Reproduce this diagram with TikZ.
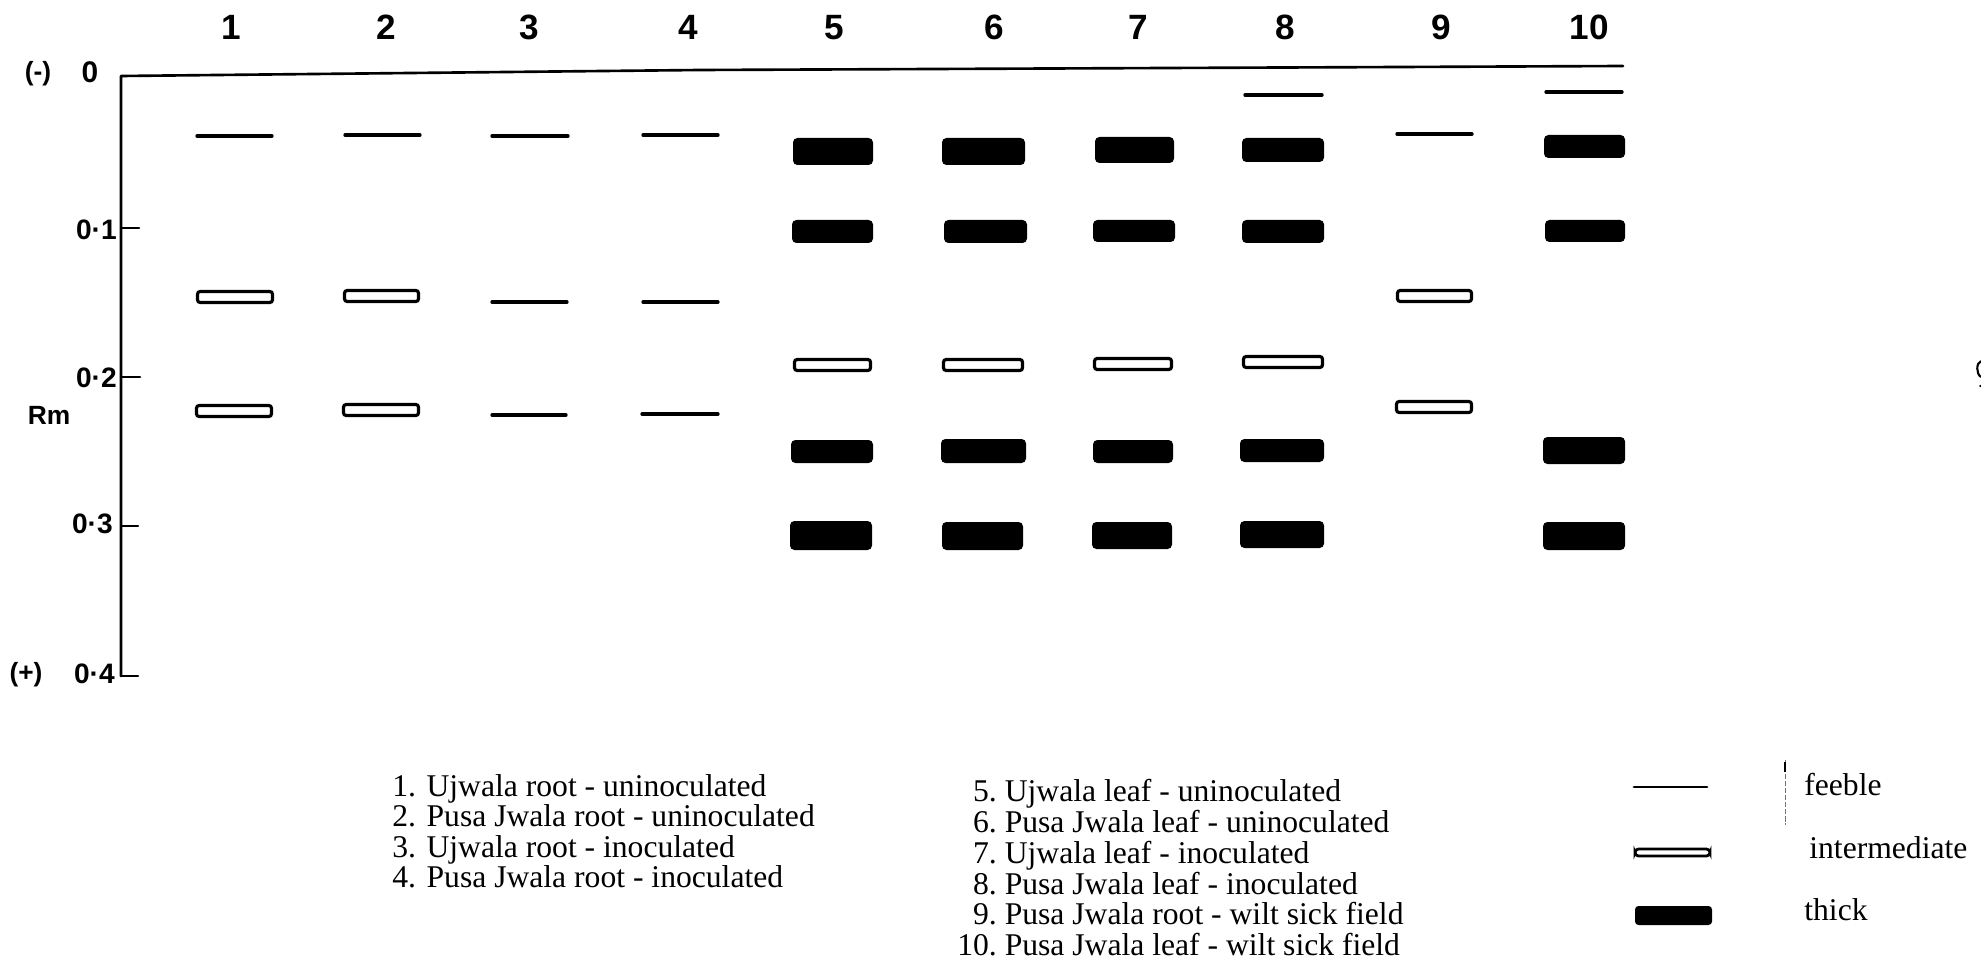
\documentclass[tikz,border=0pt]{standalone}
\usepackage{fontspec}
\setmainfont{Liberation Serif}
\newfontfamily\handfont{Liberation Sans}

% band shapes of the zymogram (coordinates in pixel units)
\newcommand{\feebleband}[3]{\draw[feebleline] (#1,#3) -- (#2,#3);}
\newcommand{\midband}[3]{\draw[intbox] (#1+1.5,#3-5.5) rectangle (#2-1.5,#3+5.5);}
\newcommand{\heavyband}[4]{\fill[thickbox] (#1,#3) rectangle (#2,#4);}

\begin{document}
\begin{tikzpicture}[x=0.02cm,y=-0.02cm,
  axisline/.style={line width=1.5pt,line cap=round,line join=round},
  feebleline/.style={line width=1.9pt,line cap=round},
  intbox/.style={line width=1.8pt,rounded corners=1.5pt,fill=white},
  thickbox/.style={fill=black,rounded corners=2.5pt},
  lanelabel/.style={font=\handfont\bfseries\fontsize{20}{24}\selectfont,inner sep=0pt,anchor=base},
  ticklabel/.style={font=\handfont\bfseries\fontsize{16}{19}\selectfont,inner sep=0pt,anchor=base east},
  sidelabel/.style={font=\handfont\bfseries\fontsize{15}{18}\selectfont,inner sep=0pt,anchor=base},
  legendtext/.style={font=\fontsize{18}{21}\selectfont,inner sep=0pt,anchor=base west}]
\useasboundingbox (0,0) rectangle (1981,966);

% axes
\coordinate (top) at (121,76);
\coordinate (bottom) at (121,676);
\coordinate (topright) at (1623,66);
\draw[axisline] (bottom) -- (top) -- (700,70) -- (1400,67) -- (topright);
\draw[axisline] (121,228) -- (139,228);
\draw[axisline] (121,377) -- (140,377);
\draw[axisline] (121,526) -- (138,526);
\draw[axisline] (bottom) -- (138,676);

% axis labels
\node[sidelabel] (neg) at (38,81) {(-)};
\node[sidelabel,font=\handfont\bfseries\fontsize{17}{20}\selectfont] (zero) at (90,83) {0};
\node[ticklabel] (r1) at (117,240) {0·1};
\node[ticklabel] (r2) at (117,387) {0·2};
\node[sidelabel] (rm) at (49,424) {Rm};
\node[ticklabel] (r3) at (113,533) {0·3};
\node[sidelabel] (pos) at (26,681) {(+)};
\node[ticklabel] (r4) at (115,683) {0·4};

% lane numbers
\node[lanelabel] (l1) at (231,40) {1};
\node[lanelabel] (l2) at (386,40) {2};
\node[lanelabel] (l3) at (529,40) {3};
\node[lanelabel] (l4) at (688,40) {4};
\node[lanelabel] (l5) at (834,40) {5};
\node[lanelabel] (l6) at (994,40) {6};
\node[lanelabel] (l7) at (1138,40) {7};
\node[lanelabel] (l8) at (1285,40) {8};
\node[lanelabel] (l9) at (1441,40) {9};
\node[lanelabel] (l10) at (1589,40) {10};

% lane 1
\feebleband{197}{272}{136}
\midband{196}{274}{297}
\midband{195}{273}{411}
% lane 2
\feebleband{345}{420}{135}
\midband{343}{420}{296}
\midband{342}{420}{410}
% lane 3
\feebleband{492}{568}{136}
\feebleband{492}{567}{302}
\feebleband{492}{566}{415}
% lane 4
\feebleband{643}{718}{135}
\feebleband{643}{718}{302}
\feebleband{642}{718}{414}
% lane 5
\heavyband{793}{873}{138}{165}
\heavyband{792}{873}{220}{243}
\midband{793}{872}{365}
\heavyband{791}{873}{440}{463}
\heavyband{790}{872}{521}{550}
% lane 6
\heavyband{942}{1025}{138}{165}
\heavyband{944}{1027}{220}{243}
\midband{942}{1024}{365}
\heavyband{941}{1026}{439}{463}
\heavyband{942}{1023}{522}{550}
% lane 7
\heavyband{1095}{1174}{137}{163}
\heavyband{1093}{1175}{220}{242}
\midband{1093}{1173}{364}
\heavyband{1093}{1173}{440}{463}
\heavyband{1092}{1172}{522}{549}
% lane 8
\feebleband{1245}{1322}{95}
\heavyband{1242}{1324}{138}{162}
\heavyband{1242}{1324}{220}{243}
\midband{1242}{1324}{362}
\heavyband{1240}{1324}{439}{462}
\heavyband{1240}{1324}{521}{548}
% lane 9
\feebleband{1397}{1472}{134}
\midband{1396}{1473}{296}
\midband{1395}{1473}{407}
% lane 10
\feebleband{1546}{1622}{92}
\heavyband{1544}{1625}{135}{158}
\heavyband{1545}{1625}{220}{242}
\heavyband{1543}{1625}{437}{464}
\heavyband{1543}{1625}{522}{550}

% sample list
\node[legendtext] (s1) at (392,796) {1. Ujwala root - uninoculated};
\node[legendtext] (s2) at (392,826) {2. Pusa Jwala root - uninoculated};
\node[legendtext] (s3) at (392,857) {3. Ujwala root - inoculated};
\node[legendtext] (s4) at (392,887) {4. Pusa Jwala root - inoculated};
\node[legendtext] (s5) at (957,801) {\makebox[1.25em][r]{5.} Ujwala leaf - uninoculated};
\node[legendtext] (s6) at (957,832) {\makebox[1.25em][r]{6.} Pusa Jwala leaf - uninoculated};
\node[legendtext] (s7) at (957,863) {\makebox[1.25em][r]{7.} Ujwala leaf - inoculated};
\node[legendtext] (s8) at (957,894) {\makebox[1.25em][r]{8.} Pusa Jwala leaf - inoculated};
\node[legendtext] (s9) at (957,924) {\makebox[1.25em][r]{9.} Pusa Jwala root - wilt sick field};
\node[legendtext] (s10) at (957,955) {\makebox[1.25em][r]{10.} Pusa Jwala leaf - wilt sick field};

% key to band intensities
\draw[feebleline,line width=1.6pt] (1634,787) -- (1707,787);
\draw[line width=1.6pt,rounded corners=2pt] (1635,849) rectangle (1710,856);
\fill[rounded corners=2pt] (1635,906) rectangle (1712,925);
\draw[black!55,line width=0.5pt,dash pattern=on 3pt off 1pt] (1785,760) -- (1785,825);
\draw[line width=0.8pt] (1785,762) -- (1785,772);
\node[legendtext] (kf) at (1804,795) {feeble};
\node[legendtext] (ki) at (1809,858) {intermediate};
\node[legendtext] (kt) at (1804,920) {thick};

% mark cut by the right edge
\draw[line width=1.2pt] (1981,361) .. controls (1976,363) and (1976,374) .. (1981,377);
\fill (1980.3,386) circle (0.7pt);
\end{tikzpicture}
\end{document}
